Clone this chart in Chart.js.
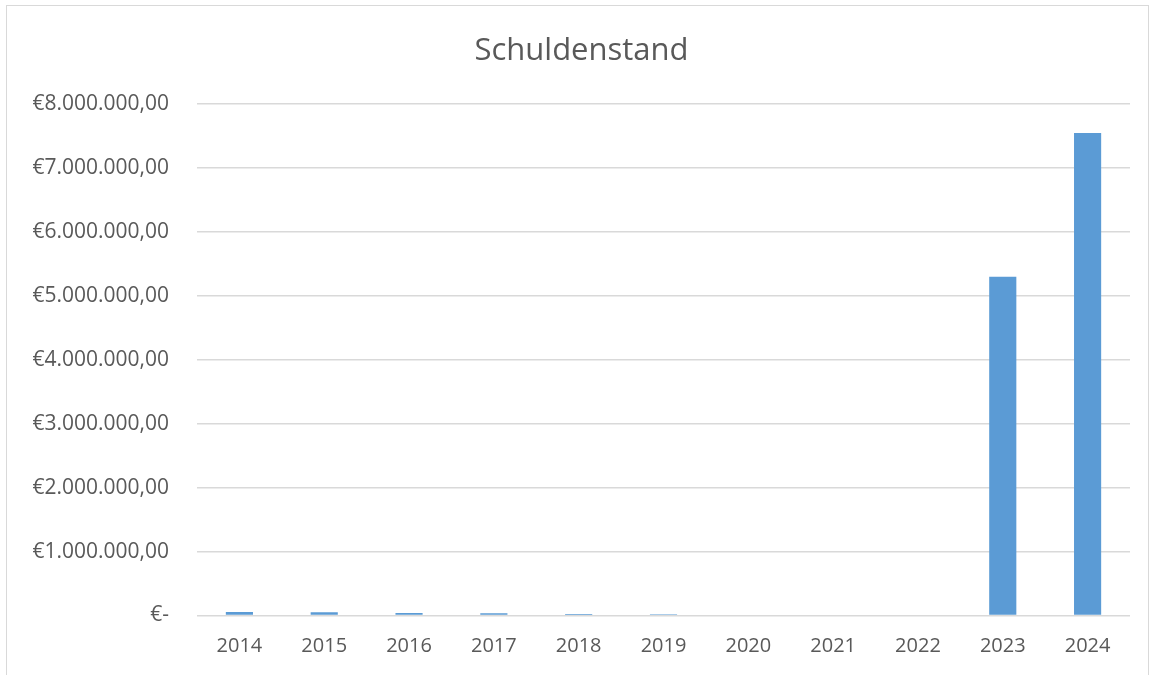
<!DOCTYPE html>
<html lang="de">
<head>
<meta charset="UTF-8">
<title>Schuldenstand</title>
<script src="https://cdn.jsdelivr.net/npm/chart.js"></script>
<style>
  html, body { margin: 0; padding: 0; background: #fff; }
  .wrap { position: relative; width: 1152px; height: 675px; overflow: hidden; }
  .frame { position: absolute; left: 6px; top: 5px; width: 1143px; height: 700px; border: 1px solid #d9d9d9; box-sizing: border-box; }
  canvas { position: absolute; left: 0; top: 0; }
</style>
</head>
<body>
<div class="wrap">
  <div class="frame"></div>
  <canvas id="chart" width="1152" height="675"></canvas>
</div>
<script>
// Daten
const jahre = ['2014', '2015', '2016', '2017', '2018', '2019', '2020', '2021', '2022', '2023', '2024'];
const schuldenstand = [55000, 50000, 40000, 35000, 25000, 20000, 0, 0, 0, 5300000, 7550000];
const yMax = 8000000;
const yStep = 1000000;

function euro(v) {
  if (v === 0) return '€-';
  return '€' + v.toLocaleString('de-DE', { minimumFractionDigits: 2, maximumFractionDigits: 2 });
}

const grau = '#595959';
const fontFamily = '"Open Sans", Lato, sans-serif';

new Chart(document.getElementById('chart'), {
  type: 'bar',
  data: {
    labels: jahre,
    datasets: [{
      label: 'Schuldenstand',
      data: schuldenstand,
      backgroundColor: '#5b9bd5',
      borderWidth: 0,
      barPercentage: 0.32,
      categoryPercentage: 1
    }]
  },
  options: {
    responsive: false,
    animation: false,
    layout: { padding: { left: 33, right: 22, top: 0, bottom: 0 } },
    plugins: {
      legend: { display: false },
      tooltip: { enabled: false },
      title: {
        display: true,
        text: 'Schuldenstand',
        color: grau,
        font: { family: fontFamily, size: 31, weight: 'normal' },
        padding: { top: 33, bottom: 34 }
      }
    },
    scales: {
      x: {
        grid: { display: false, drawTicks: false },
        border: { display: false },
        ticks: { color: grau, font: { family: fontFamily, size: 20 }, padding: 19 },
        afterFit: function (s) { s.height = 59.5; }
      },
      y: {
        min: 0,
        max: yMax,
        grid: { color: '#d9d9d9', lineWidth: 1.5, drawTicks: false },
        border: { display: false },
        ticks: {
          stepSize: yStep,
          color: grau,
          font: { family: fontFamily, size: 21 },
          padding: 28,
          callback: function (v) { return euro(v); }
        },
        afterFit: function (s) { s.width = 164; }
      }
    }
  }
});
</script>
</body>
</html>
